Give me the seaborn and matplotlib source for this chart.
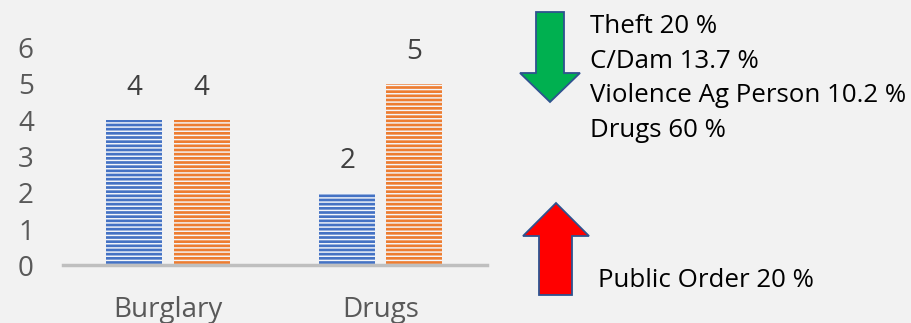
import matplotlib
matplotlib.use("Agg")
import matplotlib.pyplot as plt
from matplotlib.patches import Polygon
import seaborn as sns
import pandas as pd

# ---- data ----
categories = ["Burglary", "Drugs"]
series_names = ["Period 1", "Period 2"]
values_period1 = [4, 2]
values_period2 = [4, 5]
y_ticks = [0, 1, 2, 3, 4, 5, 6]
decrease_lines = ["Theft 20 %", "C/Dam 13.7 %", "Violence Ag Person 10.2 %", "Drugs 60 %"]
increase_lines = ["Public Order 20 %"]

colors = ["#4472c4", "#ed7d31"]
bg = "#f2f2f2"

sns.set_theme(style="white")
plt.rcParams["font.family"] = ["Open Sans", "DejaVu Sans"]
plt.rcParams["hatch.linewidth"] = 1.05

df = pd.DataFrame({
    "category": categories * 2,
    "series": [series_names[0]] * len(categories) + [series_names[1]] * len(categories),
    "value": values_period1 + values_period2,
})

W, H = 911, 323
fig = plt.figure(figsize=(W / 100, H / 100), dpi=100, facecolor=bg)
ax = fig.add_axes([63 / W, 1 - 265.3 / H, (487 - 63) / W, (265.3 - 47.5) / H])
ax.set_facecolor(bg)

sns.barplot(data=df, x="category", y="value", hue="series", palette=colors,
            width=0.63, gap=0.165, legend=False, ax=ax, saturation=1)

for p in ax.patches:
    p.set_hatch("----")
    p.set_edgecolor("#f4f6fa")
    p.set_linewidth(0)
    if hasattr(p, "set_hatchcolor"):
        p.set_hatchcolor("#f4f6fa")

for cont in ax.containers:
    ax.bar_label(cont, padding=13, fontsize=20, color="#404040")

ax.set_ylim(0, 6)
ax.set_xlim(-0.493, 1.498)
ax.set_yticks(y_ticks)
ax.set_xlabel("")
ax.set_ylabel("")
for s in ["top", "right", "left"]:
    ax.spines[s].set_visible(False)
ax.spines["bottom"].set_color("#bfbfbf")
ax.spines["bottom"].set_linewidth(2.5)
ax.tick_params(axis="y", length=0, pad=21, labelsize=20, labelcolor="#595959")
ax.tick_params(axis="x", length=0, pad=22, labelsize=20, labelcolor="#595959")


def fx(x):
    return x / W


def fy(y):
    return 1 - y / H


# green down arrow
green_pts = [(536, 12), (564, 12), (564, 73), (580, 73), (550, 102), (520, 73), (536, 73)]
fig.add_artist(Polygon([(fx(x), fy(y)) for x, y in green_pts], closed=True,
                       facecolor="#00b050", edgecolor="#2f528f", linewidth=1.3,
                       transform=fig.transFigure))
# red up arrow
red_pts = [(539, 295), (572, 295), (572, 236), (589, 236), (556, 203), (523, 236), (539, 236)]
fig.add_artist(Polygon([(fx(x), fy(y)) for x, y in red_pts], closed=True,
                       facecolor="#ff0000", edgecolor="#2f528f", linewidth=1.3,
                       transform=fig.transFigure))

baselines = [33, 68, 102, 137]
for txt, yb in zip(decrease_lines, baselines):
    fig.text(fx(590), fy(yb), txt, fontsize=18.6, color="black", va="baseline", ha="left")
fig.text(fx(598), fy(287), increase_lines[0], fontsize=18.6, color="black", va="baseline", ha="left")

fig.savefig("out.png", dpi=100, facecolor=bg)
